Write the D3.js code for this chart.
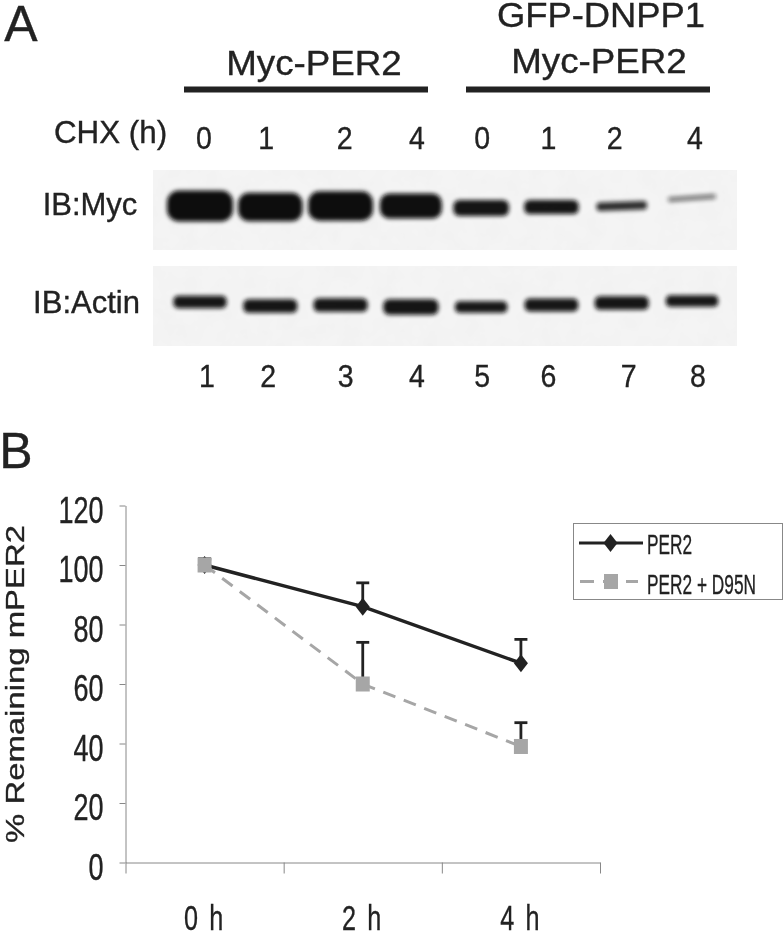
<!DOCTYPE html>
<html>
<head>
<meta charset="utf-8">
<script src="https://cdn.jsdelivr.net/npm/d3@7"></script>
<style>
  html, body { margin: 0; padding: 0; background: #fff; }
  svg { display: block; filter: blur(0.4px); }
  text { font-family: "Liberation Sans", Arial, sans-serif; fill: #222; stroke: #222; stroke-width: 0.35; }
</style>
</head>
<body>
<script>
// panel B values
const timeLabels = ["0 h", "2 h", "4 h"];
const per2Values = [100, 86, 67];
const per2Upper = [102, 94, 75];
const d95nValues = [100, 60, 39];
const d95nUpper = [102, 74, 47];
const yTicks = [0, 20, 40, 60, 80, 100, 120];
const legendLabels = ["PER2", "PER2 + D95N"];

// panel A values
const laneLabels = ["1", "2", "3", "4", "5", "6", "7", "8"];
const chxLabels = ["0", "1", "2", "4", "0", "1", "2", "4"];
const mycSignal = [100, 92, 94, 80, 48, 42, 22, 10];
const actinSignal = [36, 40, 40, 46, 32, 38, 40, 32];

const width = 784;
const height = 932;

const svg = d3.select("body").append("svg")
  .attr("width", width)
  .attr("height", height);

// text is squeezed or stretched sideways like the original figure
function label(txt, x, y, size, sx, anchor) {
  return svg.append("text")
    .attr("transform", "translate(" + x + "," + y + ") scale(" + sx + ",1)")
    .attr("text-anchor", anchor || "middle")
    .attr("font-size", size)
    .text(txt);
}

const defs = svg.append("defs");
defs.append("filter").attr("id", "bandBlur")
  .attr("x", "-30%").attr("y", "-80%").attr("width", "160%").attr("height", "260%")
  .append("feGaussianBlur").attr("stdDeviation", 2);

const mottle = defs.append("filter").attr("id", "mottle")
  .attr("x", 0).attr("y", 0).attr("width", "100%").attr("height", "100%");
mottle.append("feTurbulence")
  .attr("type", "fractalNoise").attr("baseFrequency", 0.05)
  .attr("numOctaves", 3).attr("seed", 4).attr("result", "n");
mottle.append("feColorMatrix").attr("in", "n").attr("type", "matrix")
  .attr("values", "0 0 0 0 0.5  0 0 0 0 0.5  0 0 0 0 0.5  0.1 0 0 0 -0.03")
  .attr("result", "g");
mottle.append("feMerge").selectAll("feMergeNode")
  .data(["SourceGraphic", "g"])
  .enter().append("feMergeNode").attr("in", d => d);

// ---- panel A ----
label("A", 21, 41, 50, 1);
label("Myc-PER2", 314, 75, 35, 1.05);
label("GFP-DNPP1", 601, 27, 35, 1.04);
label("Myc-PER2", 599, 73, 35, 1.05);

svg.selectAll(".groupBar")
  .data([[184, 428], [466, 710]])
  .enter().append("rect")
  .attr("class", "groupBar")
  .attr("x", d => d[0]).attr("width", d => d[1] - d[0])
  .attr("y", 86.5).attr("height", 6)
  .attr("fill", "#222");

const lane = d3.scalePoint().domain(d3.range(8)).range([200, 692]);
const bandW = d3.scaleLinear().domain([0, 100]).range([46, 66]);
const bandH = d3.scaleLinear().domain([0, 100]).range([2, 31]);
const bandO = d3.scaleLinear().domain([0, 25, 100]).range([0.25, 0.95, 1]).clamp(true);

// lane text and band offsets where the gel is not evenly spaced
const chxNudge = [4, -4, 4, 6, 1, -3, -7, 3];
const laneNudge = [7, -2, 5, 6, 1, -3, 7, 6];
const mycShift = [0, 1, 0, 0, 2, 1, 0, -8];
const mycTilt = [0, 0, 0, 0, 0, 0, -2, -4];
const actinShift = [-2, 2, 1, 3, 3, 1, -1, -3];
const actinTilt = [0, 0, 0, 0, 0, 0, 0, 0];

label("CHX (h)", 110.5, 143, 32, 0.98);
chxLabels.forEach((d, i) => label(d, lane(i) + chxNudge[i], 149, 31, 0.92));
laneLabels.forEach((d, i) => label(d, lane(i) + laneNudge[i], 387, 31, 0.92));
label("IB:Myc", 90, 215, 31, 1.0);
label("IB:Actin", 86.5, 313, 31, 1.0);

function blot(y0, signal, shift, tilt, cy) {
  svg.append("rect")
    .attr("x", 153).attr("y", y0).attr("width", 584).attr("height", 80)
    .attr("fill", "#f4f4f4").attr("filter", "url(#mottle)");
  svg.append("g").selectAll("rect")
    .data(signal)
    .enter().append("rect")
    .attr("x", d => -bandW(d) / 2)
    .attr("width", d => bandW(d))
    .attr("y", d => -bandH(d) / 2)
    .attr("height", d => bandH(d))
    .attr("rx", d => bandH(d) / 2.6)
    .attr("transform", (d, i) => "translate(" + lane(i) + "," + (cy + shift[i]) + ") rotate(" + tilt[i] + ")")
    .attr("fill", "#0c0c0c")
    .attr("opacity", d => bandO(d))
    .attr("filter", "url(#bandBlur)");
}
blot(170, mycSignal, mycShift, mycTilt, 206);
blot(266, actinSignal, actinShift, actinTilt, 304);

// ---- panel B ----
label("B", 16, 468, 50, 1);

const xBand = d3.scaleBand().domain(timeLabels).range([125.5, 600]);
const xCenter = d => xBand(d) + xBand.bandwidth() / 2;
const xEdges = d3.scaleLinear().domain([0, 3]).range([125.5, 600]);
const y = d3.scaleLinear().domain([0, 120]).range([862.5, 505.5]);

const yAxis = svg.append("g")
  .attr("transform", "translate(125.5,0)")
  .call(d3.axisLeft(y).tickValues(yTicks).tickSize(6).tickSizeOuter(0));
yAxis.attr("font-family", null);
yAxis.selectAll("line, path").attr("stroke", "#888").attr("stroke-width", 1);
yAxis.selectAll("text")
  .attr("x", null).attr("dy", null)
  .attr("transform", "translate(-22,16.5) scale(0.73,1)")
  .attr("font-size", 37)
  .attr("fill", "#222");

const xAxis = svg.append("g")
  .attr("transform", "translate(0,862.5)")
  .call(d3.axisBottom(xEdges).tickValues([0, 1, 2, 3]).tickSize(11).tickFormat("").tickSizeOuter(0));
xAxis.selectAll("line, path").attr("stroke", "#888").attr("stroke-width", 1);

const xLabels = svg.append("g")
  .attr("transform", "translate(0,862.5)")
  .call(d3.axisBottom(xBand).tickSize(0));
xLabels.select("path").remove();
xLabels.attr("font-family", null);
xLabels.selectAll("text")
  .attr("y", null).attr("dy", null)
  .attr("transform", "translate(0,67) scale(0.7,1)")
  .attr("font-size", 36)
  .attr("letter-spacing", 3)
  .attr("fill", "#222");

svg.append("text")
  .attr("transform", "translate(24,684) rotate(-90) scale(1.265,1)")
  .attr("text-anchor", "middle")
  .attr("font-size", 26)
  .attr("stroke-width", 0)
  .text("% Remaining mPER2");

const line = d3.line().x((d, i) => xCenter(timeLabels[i])).y(d => y(d));

svg.append("path").datum(per2Values)
  .attr("d", line).attr("fill", "none")
  .attr("stroke", "#222").attr("stroke-width", 3.5);
svg.append("path").datum(d95nValues)
  .attr("d", line).attr("fill", "none")
  .attr("stroke", "#a6a6a6").attr("stroke-width", 3).attr("stroke-dasharray", "13 9");

function errorBars(values, upper) {
  const g = svg.append("g").attr("stroke", "#222").attr("stroke-width", 2.8);
  upper.forEach((u, i) => {
    const cx = xCenter(timeLabels[i]);
    g.append("line").attr("x1", cx).attr("x2", cx).attr("y1", y(values[i])).attr("y2", y(u));
    g.append("line").attr("x1", cx - 6.5).attr("x2", cx + 6.5).attr("y1", y(u)).attr("y2", y(u));
  });
}
errorBars(per2Values, per2Upper);
errorBars(d95nValues, d95nUpper);

const diamond = "M0,-9L7,0L0,9L-7,0Z";
svg.append("g").selectAll("path")
  .data(per2Values)
  .enter().append("path")
  .attr("d", diamond)
  .attr("transform", (d, i) => "translate(" + xCenter(timeLabels[i]) + "," + y(d) + ")")
  .attr("fill", "#222");
svg.append("g").selectAll("rect")
  .data(d95nValues)
  .enter().append("rect")
  .attr("x", (d, i) => xCenter(timeLabels[i]) - 7)
  .attr("y", d => y(d) - 7.5)
  .attr("width", 14).attr("height", 15)
  .attr("fill", "#a6a6a6");

// legend
svg.append("rect")
  .attr("x", 573.5).attr("y", 523.5).attr("width", 209).attr("height", 76)
  .attr("fill", "#fff").attr("stroke", "#888").attr("stroke-width", 1);
svg.append("line").attr("x1", 579).attr("x2", 643).attr("y1", 543).attr("y2", 543)
  .attr("stroke", "#222").attr("stroke-width", 2.8);
svg.append("path").attr("d", diamond)
  .attr("transform", "translate(610.5,543)").attr("fill", "#222");
svg.append("line").attr("x1", 580).attr("x2", 638).attr("y1", 581.5).attr("y2", 581.5)
  .attr("stroke", "#a6a6a6").attr("stroke-width", 2.8).attr("stroke-dasharray", "14 9");
svg.append("rect").attr("x", 604).attr("y", 574).attr("width", 14).attr("height", 15).attr("fill", "#a6a6a6");
label(legendLabels[0], 647, 554, 27, 0.64, "start");
label(legendLabels[1], 647, 594, 27, 0.64, "start");
</script>
</body>
</html>
